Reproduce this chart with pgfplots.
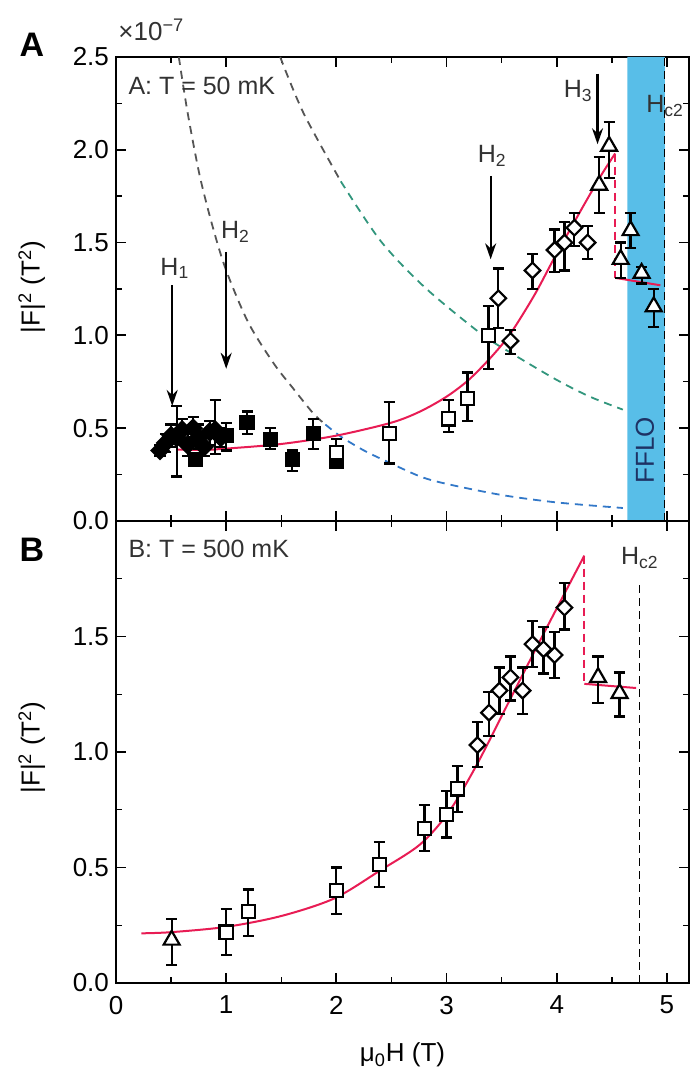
\documentclass[border=0pt]{standalone}
\usepackage{fontspec}
\setmainfont{Liberation Sans}
\usepackage{pgfplots}
\usepackage{pgfplotstable}
\pgfplotsset{compat=1.18}
\usetikzlibrary{arrows.meta}
\definecolor{fitred}{RGB}{232,28,84}
\definecolor{fflo}{RGB}{88,190,232}
\definecolor{fflotext}{RGB}{30,50,100}
\definecolor{dgrey}{RGB}{85,85,85}
\definecolor{tealc}{RGB}{50,150,125}
\definecolor{bluec}{RGB}{50,120,200}
\definecolor{txt}{RGB}{50,50,50}

\pgfdeclareplotmark{rdiamond*}{%
  \pgfpathmoveto{\pgfqpoint{0pt}{\pgfplotmarksize}}%
  \pgfpathlineto{\pgfqpoint{\pgfplotmarksize}{0pt}}%
  \pgfpathlineto{\pgfqpoint{0pt}{-\pgfplotmarksize}}%
  \pgfpathlineto{\pgfqpoint{-\pgfplotmarksize}{0pt}}%
  \pgfpathclose
  \pgfusepathqfillstroke}

% Panel A tables
\pgfplotstableread{
x y ep em
0.40 0.38 0.03 0.03
0.45 0.42 0.05 0.05
0.50 0.46 0.06 0.06
0.55 0.45 0.17 0.21
0.60 0.49 0.06 0.06
0.65 0.41 0.06 0.06
0.70 0.50 0.06 0.05
0.75 0.45 0.07 0.06
0.80 0.40 0.06 0.05
0.85 0.48 0.06 0.07
0.90 0.49 0.16 0.13
0.95 0.45 0.05 0.05
}\Afd
\pgfplotstableread{
x y ep em
0.72 0.33 0.03 0.03
1.00 0.46 0.07 0.08
1.19 0.53 0.06 0.06
1.40 0.44 0.06 0.05
1.60 0.33 0.05 0.06
1.79 0.47 0.08 0.08
2.00 0.32 0.04 0.03
}\Afs
\pgfplotstableread{
x y ep em
2.00 0.37 0.07 0.04
2.48 0.47 0.17 0.16
3.02 0.55 0.10 0.07
3.19 0.66 0.14 0.12
3.38 1.00 0.16 0.18
}\Aos
\pgfplotstableread{
x y ep em
3.47 1.20 0.16 0.16
3.58 0.97 0.06 0.07
3.78 1.35 0.09 0.10
3.98 1.46 0.11 0.12
4.07 1.50 0.11 0.15
4.16 1.58 0.08 0.10
4.28 1.50 0.09 0.09
}\Aod
\pgfplotstableread{
x y ep em
4.385 1.81 0.15 0.15
4.475 2.02 0.13 0.17
4.58 1.41 0.09 0.10
4.67 1.565 0.095 0.095
4.77 1.335 0.035 0.055
4.88 1.155 0.095 0.11
}\Atr
% Panel B tables
\pgfplotstableread{
x y ep em
1.00 0.22 0.10 0.10
1.20 0.31 0.095 0.105
2.00 0.40 0.10 0.10
2.39 0.514 0.096 0.10
2.80 0.67 0.10 0.10
3.00 0.73 0.10 0.10
3.10 0.84 0.10 0.10
}\Bos
\pgfplotstableread{
x y ep em
3.28 1.03 0.10 0.095
3.385 1.17 0.09 0.10
3.48 1.266 0.10 0.10
3.58 1.323 0.09 0.10
3.69 1.266 0.10 0.10
3.78 1.467 0.10 0.10
3.88 1.445 0.095 0.105
3.98 1.42 0.10 0.10
4.07 1.625 0.105 0.095
}\Bod
\pgfplotstableread{
x y ep em
0.505 0.186 0.09 0.108
4.375 1.323 0.09 0.11
4.57 1.254 0.09 0.10
}\Btr

\pgfplotsset{
 myaxis/.style={
  scale only axis, width=286.5pt, anchor=south west,
  xmin=0, xmax=5.2, xtick={0,1,2,3,4,5}, minor x tick num=1,
  ymin=0, minor y tick num=1,
  axis line style={line width=1pt},
  major tick length=5pt, minor tick length=3pt,
  every tick/.append style={black, line width=0.9pt},
  every minor tick/.append style={line width=0.7pt},
  tick label style={font=\fontsize{13}{15}\selectfont},
  label style={font=\fontsize{13}{15}\selectfont},
  xticklabel style={yshift=-3pt},
 },
 ebar/.style={
  error bars/.cd, y dir=both, y explicit, error mark=-,
  error bar style={draw=black, line width=1.1pt, solid},
  error mark options={rotate=90, draw=black, line width=1.1pt, mark size=2.8pt}},
 opensq/.style={only marks, mark=square*, mark size=3.3pt, mark options={fill=white, draw=black, line width=1.1pt}, ebar},
 fillsq/.style={only marks, mark=square*, mark size=3.3pt, mark options={fill=black, draw=black, line width=1.1pt}, ebar},
 opendia/.style={only marks, mark=rdiamond*, mark size=3.9pt, mark options={fill=white, draw=black, line width=1.1pt}, ebar},
 filldia/.style={only marks, mark=rdiamond*, mark size=4.2pt, mark options={fill=black, draw=black, line width=1.1pt}, ebar},
 opentri/.style={only marks, mark=triangle*, mark size=4.6pt, mark options={fill=white, draw=black, line width=1.1pt}, ebar},
 curvedash/.style={line width=0.9pt, dash pattern=on 4pt off 3pt, smooth},
}

\begin{document}
\begin{tikzpicture}
% ---------- Panel A ----------
\begin{axis}[myaxis, at={(58pt,277pt)}, height=232pt, ymax=2.5,
  ytick={0,0.5,1,1.5,2,2.5}, yticklabels={0.0,0.5,1.0,1.5,2.0,2.5},
  xticklabels={},
  ylabel={|F|\textsuperscript{2} (T\textsuperscript{2})},
  ylabel style={at={(axis description cs:-0.147,0.504)}, anchor=center}]
\addplot[fill=fflo, draw=none] coordinates {(4.64,0) (4.98,0) (4.98,2.5) (4.64,2.5)} \closedcycle;
\addplot[black, line width=0.7pt, dash pattern=on 4pt off 2.5pt] coordinates {(4.98,0) (4.98,2.5)};
% dashed curves
\addplot[dgrey, curvedash] coordinates {(0.57,2.5) (0.65,2.2) (0.76,1.86) (0.88,1.58) (1.0,1.35) (1.2,1.07) (1.43,0.85) (1.6,0.72) (1.79,0.58) (1.9,0.52)};
\addplot[bluec, curvedash] coordinates {(1.9,0.52) (2.04,0.455) (2.25,0.38) (2.46,0.32) (2.76,0.24) (3.0,0.2) (3.5,0.14) (4.0,0.1) (4.6,0.07)};
\addplot[dgrey, curvedash] coordinates {(1.49,2.5) (1.7,2.2) (2.04,1.83)};
\addplot[tealc, curvedash] coordinates {(2.04,1.83) (2.4,1.51) (2.8,1.26) (3.31,1.01) (3.6,0.9) (4.0,0.76) (4.3,0.67) (4.6,0.6)};
% fit
\addplot[fitred, line width=1pt, smooth] coordinates {(0.55,0.385) (0.8,0.383) (1.0,0.39) (1.5,0.415) (2.0,0.46) (2.5,0.53) (2.76,0.59) (3.0,0.67) (3.2,0.76) (3.4,0.88) (3.58,1.01) (3.8,1.22) (3.98,1.42) (4.22,1.675) (4.4,1.86) (4.53,1.98)};
\addplot[fitred, line width=1pt, dash pattern=on 4pt off 2.5pt] coordinates {(4.53,1.98) (4.53,1.31)};
\addplot[fitred, line width=1pt] coordinates {(4.53,1.31) (4.94,1.27)};
% data
\addplot[filldia] table[x=x,y=y,y error plus=ep,y error minus=em]{\Afd};
\addplot[fillsq] table[x=x,y=y,y error plus=ep,y error minus=em]{\Afs};
\addplot[opensq] table[x=x,y=y,y error plus=ep,y error minus=em]{\Aos};
\addplot[opendia] table[x=x,y=y,y error plus=ep,y error minus=em]{\Aod};
\addplot[opentri] table[x=x,y=y,y error plus=ep,y error minus=em]{\Atr};
% arrows and labels
\draw[-{Stealth[length=8pt,width=5.5pt]}, line width=1.1pt] (axis cs:0.51,1.27) -- (axis cs:0.51,0.62);
\draw[-{Stealth[length=8pt,width=5.5pt]}, line width=1.1pt] (axis cs:1.0,1.45) -- (axis cs:1.0,0.82);
\draw[-{Stealth[length=8pt,width=5.5pt]}, line width=1.1pt] (axis cs:3.40,1.86) -- (axis cs:3.40,1.41);
\draw[-{Stealth[length=8pt,width=5.5pt]}, line width=1.1pt] (axis cs:4.37,2.41) -- (axis cs:4.37,2.03);
\begin{scope}[every node/.style={font=\fontsize{12.5}{14}\selectfont, text=txt, inner sep=0pt, anchor=base west}]
\node at (axis cs:0.40,1.325) {H\textsubscript{1}};
\node at (axis cs:0.95,1.52) {H\textsubscript{2}};
\node at (axis cs:3.28,1.93) {H\textsubscript{2}};
\node at (axis cs:4.06,2.28) {H\textsubscript{3}};
\node at (axis cs:4.81,2.20) {H\textsubscript{c2}};
\node at (axis cs:0.11,2.30) {A: T = 50 mK};
\end{scope}
\node[rotate=90, text=fflotext, font=\fontsize{13}{15}\selectfont] at (axis cs:4.80,0.38) {FFLO};
\end{axis}
% ---------- Panel B ----------
\begin{axis}[myaxis, at={(58pt,46pt)}, height=231pt, ymax=2.0,
  ytick={0,0.5,1,1.5,2}, yticklabels={0.0,0.5,1.0,1.5,{}},
  xticklabels={0,1,2,3,4,5},
  ylabel={|F|\textsuperscript{2} (T\textsuperscript{2})},
  ylabel style={at={(axis description cs:-0.147,0.51)}, anchor=center},
  xlabel={μ\textsubscript{0}H (T)},
  xlabel style={at={(axis description cs:0.5,-0.156)}, anchor=center}]
\addplot[black, line width=0.7pt, dash pattern=on 4pt off 2.5pt] coordinates {(4.75,0) (4.75,1.74)};
\addplot[fitred, line width=1pt, smooth] coordinates {(0.23,0.215) (0.5,0.22) (1.0,0.243) (1.5,0.29) (1.98,0.366) (2.4,0.488) (2.76,0.60) (3.02,0.74) (3.28,0.95) (3.6,1.25) (3.9,1.53) (4.25,1.85)};
\addplot[fitred, line width=1pt, dash pattern=on 4pt off 2.5pt] coordinates {(4.25,1.85) (4.25,1.295)};
\addplot[fitred, line width=1pt] coordinates {(4.25,1.295) (4.72,1.277)};
\addplot[opensq] table[x=x,y=y,y error plus=ep,y error minus=em]{\Bos};
\addplot[opendia] table[x=x,y=y,y error plus=ep,y error minus=em]{\Bod};
\addplot[opentri] table[x=x,y=y,y error plus=ep,y error minus=em]{\Btr};
\begin{scope}[every node/.style={font=\fontsize{12.5}{14}\selectfont, text=txt, inner sep=0pt, anchor=base west}]
\node at (axis cs:4.58,1.81) {H\textsubscript{c2}};
\node at (axis cs:0.11,1.84) {B: T = 500 mK};
\end{scope}
\end{axis}
% outer labels
\node[font=\fontsize{17}{19}\selectfont\bfseries, anchor=center] at (16pt,515pt) {A};
\node[font=\fontsize{17}{19}\selectfont\bfseries, anchor=center] at (16pt,262.5pt) {B};
\node[font=\fontsize{13}{15}\selectfont, text=txt, anchor=west, inner sep=0pt] at (59pt,522.5pt) {×10\textsuperscript{−7}};
\pgfresetboundingbox
\path[use as bounding box] (0,0) rectangle (345.5pt,537.5pt);
\end{tikzpicture}
\end{document}
